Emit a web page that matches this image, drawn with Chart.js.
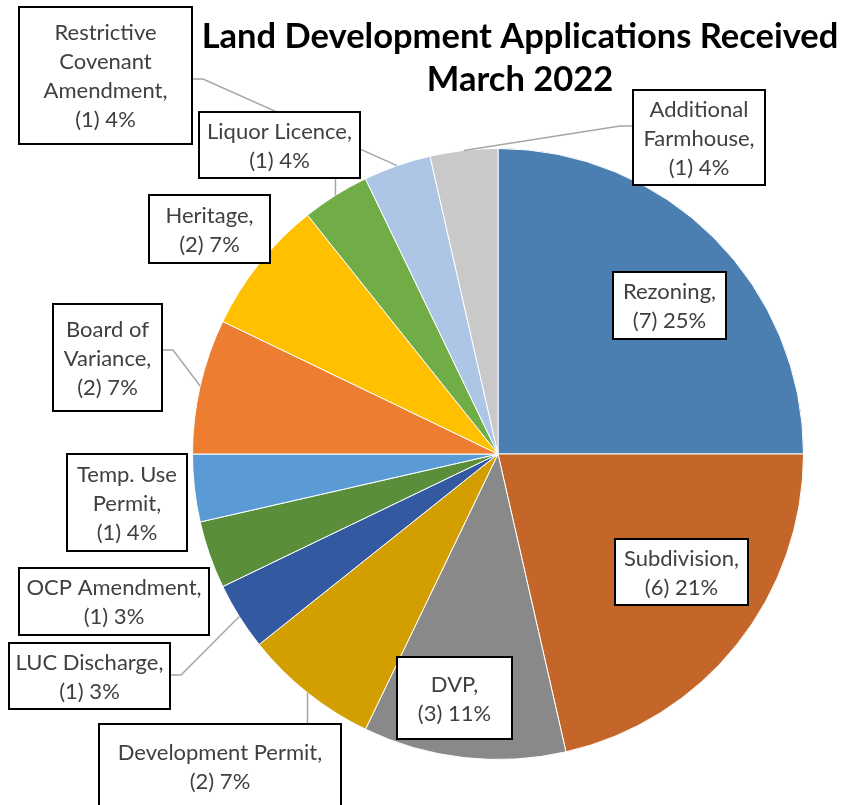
<!DOCTYPE html>
<html>
<head>
<meta charset="utf-8">
<title>Land Development Applications Received</title>
<script src="https://cdn.jsdelivr.net/npm/chart.js@4"></script>
<style>
  html, body { margin: 0; padding: 0; background: #fff; }
  canvas { display: block; }
</style>
</head>
<body>
<canvas id="chart" width="843" height="805"></canvas>
<script>
// Data, clockwise from 12 o'clock
const categories = [
    'Rezoning', 'Subdivision', 'DVP', 'Development Permit', 'LUC Discharge',
    'OCP Amendment', 'Temp. Use\nPermit', 'Board of\nVariance', 'Heritage',
    'Liquor Licence', 'Restrictive\nCovenant\nAmendment', 'Additional\nFarmhouse'
];
const counts = [7, 6, 3, 2, 1, 1, 1, 2, 2, 1, 1, 1];
const percentLabels = ['25%', '21%', '11%', '7%', '3%', '3%', '4%', '7%', '7%', '4%', '4%', '4%'];
const titleLines = ['Land Development Applications Received', 'March 2022'];

const sliceColors = [
    '#4B7FB1', '#C4652A', '#898989', '#D29E00', '#335AA1', '#5A8E3B',
    '#5B9BD5', '#ED7D31', '#FFC000', '#70AD47', '#ADC6E6', '#C9C9C9'
];

// Label box layout: [left, top, width, height], leader style
const labelBoxes = [
    { box: [613, 272, 113, 67] },
    { box: [615, 539, 133, 66] },
    { box: [397, 657, 115, 82] },
    { box: [99, 724, 242, 84], leader: 'top' },
    { box: [9, 643, 161, 66], leader: 'right', at: 675 },
    { box: [19, 568, 190, 67] },
    { box: [67, 454, 120, 97] },
    { box: [53, 304, 109, 107], leader: 'right', at: 350 },
    { box: [149, 195, 121, 68] },
    { box: [199, 112, 161, 66], leader: 'bottom' },
    { box: [19, 7, 173, 137], leader: 'right', at: 79 },
    { box: [633, 90, 132, 95], leader: 'left', at: 126 }
];

const labelFont = '22px Lato, "Open Sans", sans-serif';
const titleFont = 'bold 34.5px Lato, "Open Sans", sans-serif';

// Draws title, leader lines and boxed labels
const labelPlugin = {
    id: 'boxLabels',
    afterDraw(chart) {
        const ctx = chart.ctx;
        const arcs = chart.getDatasetMeta(0).data;
        ctx.save();

        // title
        ctx.fillStyle = '#000';
        ctx.font = titleFont;
        ctx.textAlign = 'center';
        ctx.textBaseline = 'middle';
        ctx.fillText(titleLines[0], 520, 37);
        ctx.fillText(titleLines[1], 520, 80);

        // leader lines first, so boxes sit on top of them
        ctx.strokeStyle = '#A6A6A6';
        ctx.lineWidth = 1.5;
        labelBoxes.forEach((lb, i) => {
            if (!lb.leader) return;
            const a = arcs[i].getProps(['x', 'y', 'startAngle', 'endAngle', 'outerRadius'], true);
            const mid = (a.startAngle + a.endAngle) / 2;
            const px = a.x + Math.cos(mid) * a.outerRadius;
            const py = a.y + Math.sin(mid) * a.outerRadius;
            const [bx, by, bw, bh] = lb.box;
            ctx.beginPath();
            if (lb.leader === 'right') {
                ctx.moveTo(bx + bw, lb.at);
                ctx.lineTo(bx + bw + 11, lb.at);
                ctx.lineTo(px, py);
            } else if (lb.leader === 'left') {
                ctx.moveTo(bx, lb.at);
                ctx.lineTo(bx - 13, lb.at);
                ctx.lineTo(px, py);
            } else if (lb.leader === 'bottom') {
                ctx.moveTo(px, by + bh);
                ctx.lineTo(px, py);
            } else if (lb.leader === 'top') {
                ctx.moveTo(px, by);
                ctx.lineTo(px, py);
            }
            ctx.stroke();
        });

        // boxes with text
        ctx.font = labelFont;
        labelBoxes.forEach((lb, i) => {
            const [bx, by, bw, bh] = lb.box;
            ctx.fillStyle = '#fff';
            ctx.fillRect(bx, by, bw, bh);
            ctx.strokeStyle = '#000';
            ctx.lineWidth = 2;
            ctx.strokeRect(bx, by, bw, bh);

            const lines = (categories[i] + ',').split('\n');
            lines.push('(' + counts[i] + ') ' + percentLabels[i]);
            const lineH = 29;
            const startY = by + bh / 2 - (lines.length - 1) * lineH / 2;
            ctx.fillStyle = '#404040';
            ctx.textAlign = 'center';
            ctx.textBaseline = 'middle';
            lines.forEach((t, k) => ctx.fillText(t, bx + bw / 2, startY + k * lineH + 1));
        });
        ctx.restore();
    }
};

new Chart(document.getElementById('chart'), {
    type: 'pie',
    data: {
        labels: categories,
        datasets: [{
            data: counts,
            backgroundColor: sliceColors,
            borderColor: '#ffffff',
            borderWidth: 1
        }]
    },
    options: {
        responsive: false,
        animation: false,
        layout: { padding: { left: 192, top: 148, right: 39, bottom: 45 } },
        plugins: {
            legend: { display: false },
            title: { display: false },
            tooltip: { enabled: false }
        }
    },
    plugins: [labelPlugin]
});
</script>
</body>
</html>
